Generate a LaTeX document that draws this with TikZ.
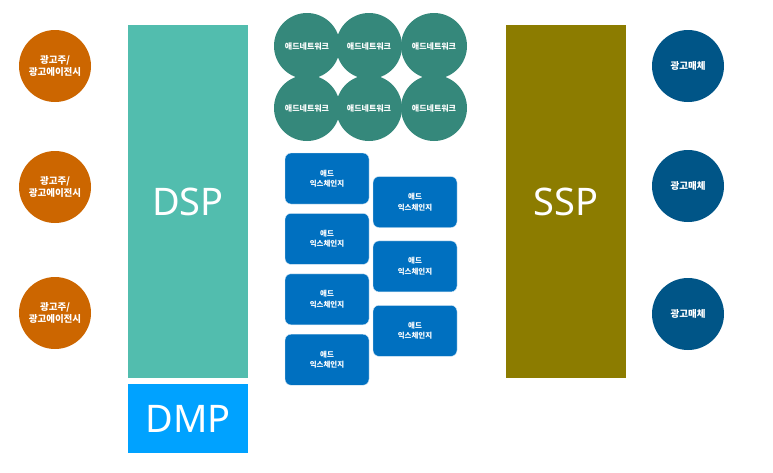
\documentclass[tikz,border=0pt]{standalone}
\usepackage{fontspec}
\setmainfont{Noto Sans CJK KR}
\newfontfamily\latinfont{Noto Sans}
\usepackage{tikz}
\usetikzlibrary{positioning}
\definecolor{agencyorange}{RGB}{204,102,0}
\definecolor{mediablue}{RGB}{0,85,135}
\definecolor{dspteal}{RGB}{82,189,174}
\definecolor{dmpblue}{RGB}{0,162,255}
\definecolor{sspolive}{RGB}{140,124,0}
\definecolor{netgreen}{RGB}{53,136,123}
\definecolor{exchblue}{RGB}{0,112,192}

\begin{document}
\begin{tikzpicture}[
  x=1pt, y=-1pt,
  party/.style={circle, fill=#1, minimum size=72pt, inner sep=0pt,
                text=white, align=center,
                font=\fontsize{9.5}{12.5}\selectfont\bfseries},
  platform/.style={fill=#1, minimum width=120pt, inner sep=0pt,
                   text=white, font=\latinfont\fontsize{38}{40}\selectfont},
  network/.style={circle, fill=netgreen, minimum size=66pt, inner sep=0pt,
                  text=white, font=\fontsize{8}{10}\selectfont\bfseries},
  exchange/.style={fill=exchblue, draw=white!85!exchblue, rounded corners=6pt,
                   minimum width=84pt, minimum height=51pt, inner sep=0pt,
                   text=white, align=center,
                   font=\fontsize{7.5}{10.5}\selectfont\bfseries}
]
  \useasboundingbox (0,0) rectangle (773,472);

  % advertisers
  \node[party=agencyorange] (adv1) at (55,66)  {광고주/\\광고에이전시};
  \node[party=agencyorange] (adv2) at (55,187) {광고주/\\광고에이전시};
  \node[party=agencyorange] (adv3) at (55,313) {광고주/\\광고에이전시};

  % DSP / DMP
  \node[platform=dspteal, minimum height=353pt] (dsp) at (188,201.5) {DSP};
  \node[platform=dmpblue, minimum height=69pt, below=6pt of dsp] (dmp) {DMP};

  % ad networks
  \node[network] (net1) at (307,46)  {애드네트워크};
  \node[network] (net2) at (369,46)  {애드네트워크};
  \node[network] (net3) at (434,46)  {애드네트워크};
  \node[network] (net4) at (307,108) {애드네트워크};
  \node[network] (net5) at (369,108) {애드네트워크};
  \node[network] (net6) at (434,108) {애드네트워크};

  % ad exchanges
  \node[exchange] (exch1) at (327,178.5) {애드\\익스체인지};
  \node[exchange, below=9pt of exch1] (exch2) {애드\\익스체인지};
  \node[exchange, below=9pt of exch2] (exch3) {애드\\익스체인지};
  \node[exchange, below=9pt of exch3] (exch4) {애드\\익스체인지};
  \node[exchange] (exch5) at (415,202) {애드\\익스체인지};
  \node[exchange, below=13pt of exch5] (exch6) {애드\\익스체인지};
  \node[exchange, below=13pt of exch6] (exch7) {애드\\익스체인지};

  % SSP
  \node[platform=sspolive, minimum height=353pt] (ssp) at (566,201.5) {SSP};

  % media
  \node[party=mediablue] (med1) at (688,66)  {광고매체};
  \node[party=mediablue] (med2) at (688,186) {광고매체};
  \node[party=mediablue] (med3) at (688,314) {광고매체};
\end{tikzpicture}
\end{document}
